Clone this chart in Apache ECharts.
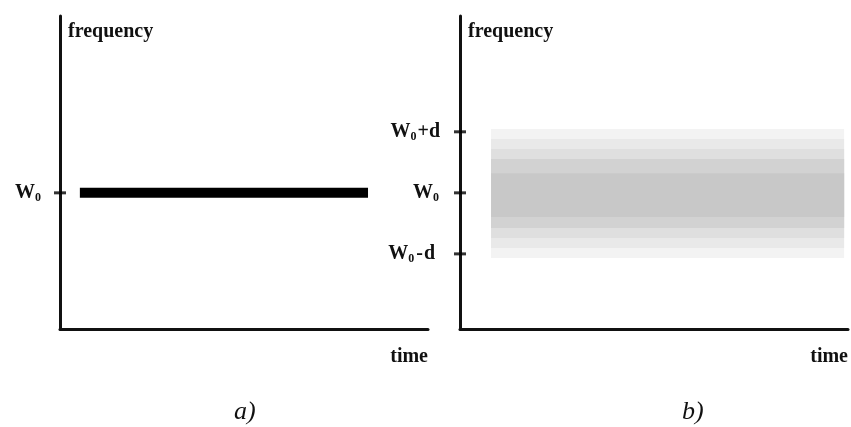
<!DOCTYPE html>
<html>
<head>
<meta charset="utf-8">
<script src="https://cdn.jsdelivr.net/npm/echarts@6/dist/echarts.min.js"></script>
<style>
html,body{margin:0;padding:0;background:#fff;}
#c{width:851px;height:427px;}
</style>
</head>
<body>
<div id="c"></div>
<script>
// ---- data ----
var W0 = 43.5;            // centre frequency (arbitrary units)
var d = 19.5;             // frequency spread
var tickLabelsA = ['W0'];
var tickLabelsB = ['W0+d', 'W0', 'W0-d'];
var tickValuesA = [W0];
var tickValuesB = [W0 + d, W0, W0 - d];
var lineTime = [5.4, 83.7];           // time span of the single-frequency line (a)
var bandTime = [8, 99];               // time span of the spread band (b)
var bandLow = [22.7, 25.9, 29.1, 32.3, 35.8];
var bandHigh = [63.9, 60.7, 57.5, 54.3, 49.8];
var bandDensity = [0.15, 0.35, 0.55, 0.8, 1.0];
var captions = ['a)', 'b)'];
var axisNames = ['frequency', 'time'];

var serif = '"Liberation Serif", "DejaVu Serif", serif';
var ink = '#111';

function labelRich(v) {
  var names = ['W0+d', 'W0', 'W0-d'];
  var vals = [W0 + d, W0, W0 - d];
  for (var i = 0; i < vals.length; i++) {
    if (Math.abs(v - vals[i]) < 0.01) {
      var n = names[i];
      if (n.length <= 2) return '{w|W}{s|0}';
      return '{w|W}{s|0}' + (n.charAt(2) === '-' ? '{m|-}' : '{w|+}') + '{w|d}' + (n.charAt(2) === '-' ? '{g|}' : '');
    }
  }
  return '';
}
var rich = {
  w: {fontFamily: serif, fontWeight: 'bold', fontSize: 20, color: ink, lineHeight: 22},
  m: {fontFamily: serif, fontWeight: 'bold', fontSize: 20, color: ink, lineHeight: 22, padding: [0, 1, 0, 1]},
  g: {width: 5, lineHeight: 22},
  s: {fontFamily: serif, fontWeight: 'bold', fontSize: 12, color: ink, lineHeight: 20, verticalAlign: 'bottom', padding: [0, 1, 0, 0]}
};

var bandData = bandLow.map(function (lo, i) {
  return [bandTime[0], bandTime[1], lo, bandHigh[i], bandDensity[i]];
});

function yAxisFor(gi, values, margin) {
  return {
    type: 'value', gridIndex: gi, min: 0, max: 100,
    name: axisNames[0], nameLocation: 'end', nameGap: -6,
    nameTextStyle: {fontFamily: serif, fontWeight: 'bold', fontSize: 20, color: ink,
      align: 'left', verticalAlign: 'top', padding: [0, 0, 0, 8]},
    axisLine: {show: true, lineStyle: {color: ink, width: 3}},
    axisTick: {show: false},
    splitLine: {show: false},
    axisLabel: {show: true, customValues: values, margin: margin,
      formatter: labelRich, rich: rich}
  };
}
function xAxisFor(gi) {
  return {
    type: 'value', gridIndex: gi, min: 0, max: 100,
    name: axisNames[1], nameLocation: 'end', nameGap: 0,
    nameTextStyle: {fontFamily: serif, fontWeight: 'bold', fontSize: 20, color: ink,
      align: 'right', verticalAlign: 'top', padding: [18, 0, 0, 0]},
    axisLine: {show: true, lineStyle: {color: ink, width: 3}},
    axisTick: {show: false},
    splitLine: {show: false},
    axisLabel: {show: false}
  };
}

var chart = echarts.init(document.getElementById('c'), null, {renderer: 'canvas'});
chart.setOption({
  animation: false,
  backgroundColor: '#fff',
  title: [
    {text: captions[0], left: 229, top: 394,
      textStyle: {fontFamily: serif, fontStyle: 'italic', fontWeight: 'normal', fontSize: 26, color: ink}},
    {text: captions[1], left: 677, top: 394,
      textStyle: {fontFamily: serif, fontStyle: 'italic', fontWeight: 'normal', fontSize: 26, color: ink}}
  ],
  grid: [
    {left: 60, right: 423, top: 16, bottom: 98},
    {left: 460, right: 0, top: 16, bottom: 98}
  ],
  xAxis: [xAxisFor(0), xAxisFor(1)],
  yAxis: [yAxisFor(0, tickValuesA, 18), yAxisFor(1, tickValuesB, 20)],
  series: [
    {
      type: 'line', xAxisIndex: 0, yAxisIndex: 0,
      data: [[lineTime[0], W0], [lineTime[1], W0]],
      symbol: 'none', silent: true,
      lineStyle: {color: '#000', width: 10, cap: 'butt'}
    },
    {
      type: 'custom', xAxisIndex: 1, yAxisIndex: 1, silent: true,
      data: bandData,
      renderItem: function (params, api) {
        var p0 = api.coord([api.value(0), api.value(3)]);
        var p1 = api.coord([api.value(1), api.value(2)]);
        var g = Math.round(250 - 50 * api.value(4));
        return {
          type: 'rect',
          shape: {x: p0[0], y: p0[1], width: p1[0] - p0[0], height: p1[1] - p0[1]},
          style: {fill: 'rgb(' + g + ',' + g + ',' + g + ')'}
        };
      }
    },
    {
      type: 'scatter', xAxisIndex: 0, yAxisIndex: 0, clip: false, silent: true,
      data: tickValuesA.map(function (v) { return [0, v]; }),
      symbol: 'rect', symbolSize: [12, 3], itemStyle: {color: '#000'}
    },
    {
      type: 'scatter', xAxisIndex: 1, yAxisIndex: 1, clip: false, silent: true,
      data: tickValuesB.map(function (v) { return [0, v]; }),
      symbol: 'rect', symbolSize: [12, 3], itemStyle: {color: '#000'}
    }
  ]
});
</script>
</body>
</html>
